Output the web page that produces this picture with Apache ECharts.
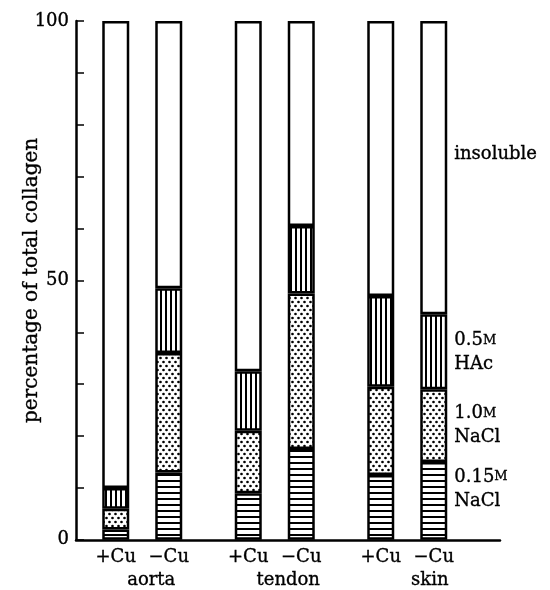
<!DOCTYPE html>
<html>
<head>
<meta charset="utf-8">
<script src="https://cdn.jsdelivr.net/npm/echarts@6/dist/echarts.min.js"></script>
<style>
html,body{margin:0;padding:0;background:#fff;}
#main{width:550px;height:590px;}
</style>
</head>
<body>
<div id="main"></div>
<script>
// ---- data ----
const tissues = ['aorta', 'tendon', 'skin'];
const conditions = ['+Cu', '\u2212Cu'];
const nacl015 = [2, 13, 9, 17.5, 12.5, 15];
const nacl10 = [4, 23, 12, 30, 17, 14];
const hac05 = [4, 12.5, 11.5, 13, 17.5, 14.5];
const insoluble = [90, 51.5, 67.5, 39.5, 53, 56.5];
const yTickLabels = [0, 50, 100];
const fractionLabels = ['0.15{m|M}\nNaCl', '1.0{m|M}\nNaCl', '0.5{m|M}\nHAc', 'insoluble'];
const yTitle = 'percentage of total collagen';

// ---- layout helpers (slots on a category axis) ----
const NSLOTS = 16;
const barSlot = [];
tissues.forEach((t, g) => conditions.forEach((c, k) => barSlot.push(1 + g * 5 + k * 2)));
const slotLabels = new Array(NSLOTS).fill('');
barSlot.forEach((s, i) => { slotLabels[s] = conditions[i % 2]; });
const tissueSlot = [2, 8, 13];
const tissuePad = [[0, 0, 0, 18], [0, 26, 0, 0], [0, 8, 0, 0]];
const tissueAxisData = new Array(NSLOTS).fill('');
tissueSlot.forEach((s, i) => { tissueAxisData[s] = { value: tissues[i], textStyle: { padding: tissuePad[i] } }; });

// ---- patterns ----
function mk(w, h, draw) {
  const c = document.createElement('canvas');
  c.width = w; c.height = h;
  const x = c.getContext('2d');
  x.fillStyle = '#fff'; x.fillRect(0, 0, w, h);
  x.fillStyle = '#000';
  draw(x);
  return { image: c, repeat: 'repeat' };
}
const hPat = mk(8, 6, x => x.fillRect(0, 0, 8, 2));
const vPat = mk(5, 8, x => x.fillRect(0, 0, 2, 8));
const dPat = mk(6, 8, x => {
  x.beginPath(); x.arc(1.5, 2, 1.35, 0, Math.PI * 2); x.fill();
  x.beginPath(); x.arc(4.5, 6, 1.35, 0, Math.PI * 2); x.fill();
});

const FONT = 'DejaVu Serif';
const TB = { textBorderColor: '#000', textBorderWidth: 0.35 };
const lastBar = barSlot.length - 1;
const labelOffsets = [[0, -12], [0, 0], [0, 1], [0, -13]];

function expand(vals, si) {
  const arr = new Array(NSLOTS).fill('-');
  vals.forEach((v, i) => {
    if (i === lastBar) {
      arr[barSlot[i]] = {
        value: v,
        label: Object.assign({
          show: true, position: 'right', distance: 7,
          offset: labelOffsets[si],
          formatter: fractionLabels[si],
          color: '#000', fontFamily: FONT, fontSize: 18, lineHeight: 24,
          rich: { m: Object.assign({ fontFamily: FONT, fontSize: 13, lineHeight: 24, color: '#000' }, TB) }
        }, TB)
      };
    } else {
      arr[barSlot[i]] = v;
    }
  });
  return arr;
}

const fills = [hPat, dPat, vPat, '#fff'];
const seriesVals = [nacl015, nacl10, hac05, insoluble];
const series = seriesVals.map((vals, si) => ({
  type: 'bar',
  stack: 'total',
  barWidth: 27,
  data: expand(vals, si),
  itemStyle: { color: fills[si], borderColor: '#000', borderWidth: 2.5 },
  emphasis: { disabled: true },
  silent: true
}));

const chart = echarts.init(document.getElementById('main'), null, { renderer: 'canvas' });
chart.setOption({
  animation: false,
  backgroundColor: '#fff',
  grid: { left: 76, right: 50, top: 21, bottom: 49, containLabel: false },
  xAxis: [{
    type: 'category',
    data: slotLabels,
    boundaryGap: true,
    axisLine: { show: true, lineStyle: { color: '#000', width: 2.5 } },
    axisTick: { show: false },
    axisLabel: Object.assign({ interval: 0, color: '#000', fontFamily: FONT, fontSize: 18, margin: 9 }, TB)
  }, {
    type: 'category',
    position: 'bottom',
    offset: 23,
    data: tissueAxisData,
    boundaryGap: true,
    axisLine: { show: false },
    axisTick: { show: false },
    axisLabel: Object.assign({ interval: 0, color: '#000', fontFamily: FONT, fontSize: 18, margin: 9 }, TB)
  }],
  yAxis: {
    type: 'value',
    min: 0, max: 100, interval: 10,
    name: yTitle,
    nameLocation: 'middle',
    nameGap: 34,
    nameMoveOverlap: false,
    nameTextStyle: Object.assign({ color: '#000', fontFamily: FONT, fontSize: 20 }, TB),
    axisLine: { show: true, lineStyle: { color: '#000', width: 2.5 } },
    axisTick: { show: true, inside: true, length: 8, lineStyle: { color: '#000', width: 1.5 } },
    splitLine: { show: false },
    axisLabel: Object.assign({
      color: '#000', fontFamily: FONT, fontSize: 18, margin: 7,
      formatter: v => (yTickLabels.indexOf(v) >= 0 ? String(v) : '')
    }, TB)
  },
  series: series
});
</script>
</body>
</html>
